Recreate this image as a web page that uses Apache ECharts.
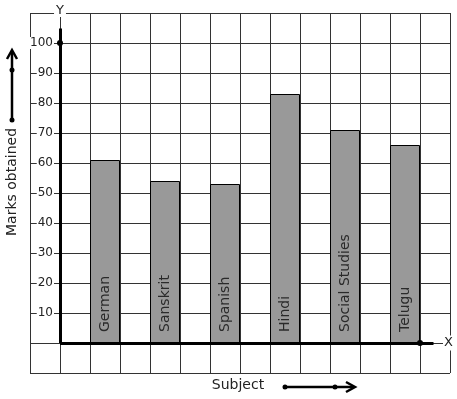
<!DOCTYPE html>
<html>
<head>
<meta charset="utf-8">
<script src="https://cdn.jsdelivr.net/npm/echarts@6/dist/echarts.min.js"></script>
<style>
  html, body { margin: 0; padding: 0; background: #fff; }
  #chart { width: 457px; height: 399px; }
</style>
</head>
<body>
<div id="chart"></div>
<script>
// chart data
const subjects = ["German", "Sanskrit", "Spanish", "Hindi", "Social Studies", "Telugu"];
const marks = [61, 54, 53, 83, 71, 66];
const yTicks = [10, 20, 30, 40, 50, 60, 70, 80, 90, 100];

const font = "DejaVu Sans";
// open chevron pointing up, used as the arrow head of the axes
const chevron = "path://M6,0 L12,8.5 L10.8,9.6 L6,2.8 L1.2,9.6 L0,8.5 Z";

const chart = echarts.init(document.getElementById("chart"));
const option = {
  animation: false,
  textStyle: { fontFamily: font },
  grid: [
    // graph paper
    { left: 30, right: 7, top: 13, bottom: 26, outerBoundsMode: "none" },
    // bars
    { left: 75, right: 22, top: 13, bottom: 26, outerBoundsMode: "none" },
  ],
  xAxis: [
    {
      gridIndex: 0,
      type: "value",
      min: -1,
      max: 13,
      interval: 1,
      name: "X",
      nameLocation: "end",
      nameGap: -7,
      nameTextStyle: {
        fontFamily: font,
        fontSize: 13,
        color: "#222",
        backgroundColor: "#fff",
        padding: [1, 1],
      },
      axisLine: { show: true, onZero: true, lineStyle: { opacity: 0 } },
      axisTick: { show: false },
      axisLabel: { show: false },
      splitLine: { show: true, lineStyle: { color: "#333", width: 1 } },
    },
    {
      gridIndex: 1,
      type: "category",
      data: subjects,
      show: false,
    },
  ],
  yAxis: [
    {
      gridIndex: 0,
      type: "value",
      min: -10,
      max: 110,
      interval: 10,
      offset: -30,
      name: "Y",
      nameLocation: "end",
      nameGap: -4,
      nameTextStyle: {
        fontFamily: font,
        fontSize: 13,
        color: "#222",
        backgroundColor: "#fff",
        padding: [0, 2],
      },
      axisLine: { show: true, onZero: false, lineStyle: { opacity: 0 } },
      axisTick: { show: false },
      axisLabel: {
        margin: 6,
        fontFamily: font,
        fontSize: 12,
        color: "#222",
        backgroundColor: "#fff",
        padding: [0, 1],
        formatter: (v) => (yTicks.includes(v) ? String(v) : ""),
      },
      splitLine: { show: true, lineStyle: { color: "#333", width: 1 } },
    },
    {
      gridIndex: 1,
      type: "value",
      min: -10,
      max: 110,
      interval: 10,
      show: false,
    },
  ],
  series: [
    {
      // the two axes with their arrows and dots
      type: "line",
      xAxisIndex: 0,
      yAxisIndex: 0,
      data: [],
      silent: true,
      z: 5,
      markLine: {
        silent: true,
        animation: false,
        symbol: ["circle", chevron],
        symbolSize: [[6, 6], [12, 10]],
        lineStyle: { color: "#000", width: 3, type: "solid" },
        label: { show: false },
        data: [
          [{ coord: [0, 0] }, { coord: [0, 104.8] }],
          [{ coord: [0, 0] }, { coord: [12.45, 0] }],
        ],
      },
      markPoint: {
        symbol: "circle",
        symbolSize: 6,
        itemStyle: { color: "#000" },
        label: { show: false },
        data: [{ coord: [0, 100] }, { coord: [12, 0] }],
      },
    },
    {
      type: "bar",
      xAxisIndex: 1,
      yAxisIndex: 1,
      data: marks,
      barWidth: 30,
      z: 3,
      itemStyle: { color: "#999999", borderColor: "#000", borderWidth: 1 },
      label: {
        show: true,
        position: "insideBottom",
        rotate: 90,
        align: "left",
        verticalAlign: "middle",
        distance: 11,
        fontFamily: font,
        fontSize: 14,
        color: "#2a2a2a",
        formatter: (p) => p.name,
      },
    },
  ],
  graphic: [
    {
      type: "text",
      x: 12,
      y: 182,
      rotation: Math.PI / 2,
      style: {
        text: "Marks obtained",
        font: "14px DejaVu Sans",
        fill: "#222",
        align: "center",
        verticalAlign: "middle",
      },
    },
    {
      type: "text",
      x: 238,
      y: 385,
      style: {
        text: "Subject",
        font: "14px DejaVu Sans",
        fill: "#222",
        align: "center",
        verticalAlign: "middle",
      },
    },
    // arrow next to the y name
    { type: "polyline", shape: { points: [[12, 120], [12, 52]] }, style: { stroke: "#000", lineWidth: 2.5, fill: null } },
    { type: "polyline", shape: { points: [[7, 59], [12, 50], [17, 59]] }, style: { stroke: "#000", lineWidth: 2.5, fill: null } },
    { type: "circle", shape: { cx: 12, cy: 70, r: 2.5 }, style: { fill: "#000" } },
    { type: "circle", shape: { cx: 12, cy: 120, r: 2.5 }, style: { fill: "#000" } },
    // arrow next to the x name
    { type: "polyline", shape: { points: [[285, 387], [353, 387]] }, style: { stroke: "#000", lineWidth: 2.5, fill: null } },
    { type: "polyline", shape: { points: [[346, 382], [355, 387], [346, 392]] }, style: { stroke: "#000", lineWidth: 2.5, fill: null } },
    { type: "circle", shape: { cx: 285, cy: 387, r: 2.5 }, style: { fill: "#000" } },
    { type: "circle", shape: { cx: 335, cy: 387, r: 2.5 }, style: { fill: "#000" } },
  ],
};
chart.setOption(option);
window.addEventListener("resize", () => {
  chart.resize();
});
</script>
</body>
</html>
